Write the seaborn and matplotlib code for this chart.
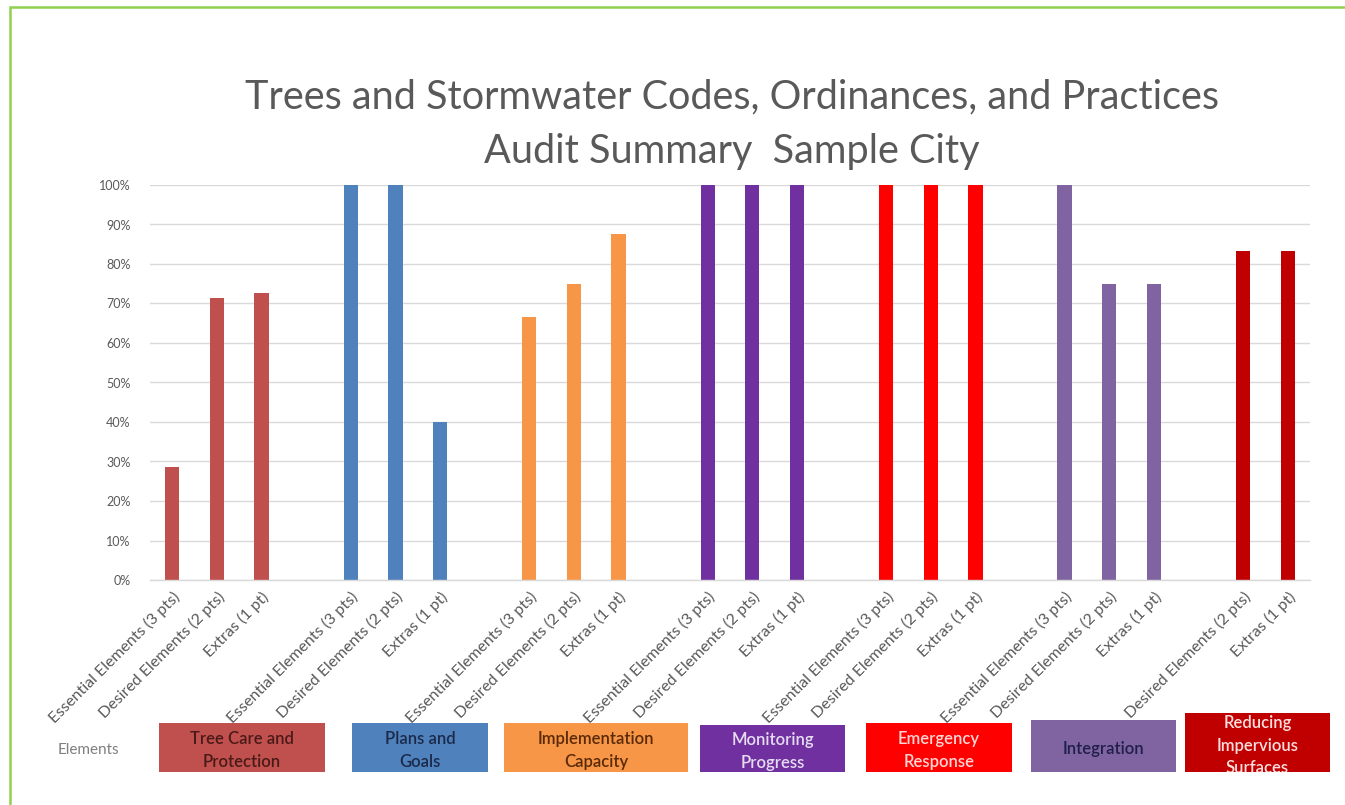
import matplotlib
matplotlib.use("Agg")
import matplotlib.pyplot as plt
from matplotlib.patches import Rectangle
from matplotlib.ticker import FixedLocator, PercentFormatter
import seaborn as sns
import pandas as pd
import numpy as np

# ---- data -----------------------------------------------------------------
groups = [
    "Tree Care and\nProtection",
    "Plans and\nGoals",
    "Implementation\nCapacity",
    "Monitoring\nProgress",
    "Emergency\nResponse",
    "Integration",
    "Reducing\nImpervious\nSurfaces",
]
ESS = "Essential Elements (3 pts)"
DES = "Desired Elements (2 pts)"
EXT = "Extras (1 pt)"
group_items = [
    [ESS, DES, EXT],
    [ESS, DES, EXT],
    [ESS, DES, EXT],
    [ESS, DES, EXT],
    [ESS, DES, EXT],
    [ESS, DES, EXT],
    [DES, EXT],
]
group_scores = [
    [0.286, 0.714, 0.727],
    [1.00, 1.00, 0.40],
    [0.667, 0.75, 0.875],
    [1.00, 1.00, 1.00],
    [1.00, 1.00, 1.00],
    [1.00, 0.75, 0.75],
    [0.833, 0.833],
]
group_colors = ["#C0504D", "#4F81BD", "#F79646", "#7030A0", "#FF0000", "#8064A2", "#C00000"]
group_text_colors = ["#4a1a18", "#1c2a4a", "#5a2a08", "#e6dcf2", "#ffd6d6", "#1f1f48", "#ffdede"]

# ---- build the category table (blank slot between element groups) --------
rows = []
for gi, (g, items, scores) in enumerate(zip(groups, group_items, group_scores)):
    for ii, (item, sc) in enumerate(zip(items, scores)):
        rows.append({"slot": f"{gi}-{ii}", "label": item, "value": sc, "group": g})
    if gi < len(groups) - 1:
        rows.append({"slot": f"{gi}-gap", "label": "", "value": np.nan, "group": g})
df = pd.DataFrame(rows)
slot_order = list(df["slot"])

# ---- figure ----------------------------------------------------------------
W, H = 1345, 805
fig = plt.figure(figsize=(W / 100, H / 100), dpi=100)
fig.patch.set_facecolor("white")


def fx(px):
    return px / W


def fy(py):
    return 1 - py / H


ax = fig.add_axes([fx(150), fy(580), fx(1310) - fx(150), fy(185) - fy(580)])
sns.barplot(
    data=df.dropna(subset=["value"]),
    x="slot", y="value", hue="group",
    order=slot_order, hue_order=groups,
    palette=dict(zip(groups, group_colors)),
    width=0.32, dodge=False, saturation=1, legend=False, ax=ax,
)

FONT = ["Lato", "DejaVu Sans"]
GREY = "#595959"

ax.set_ylim(0, 1)
ax.set_xlim(-0.5, len(slot_order) - 0.5)
ax.yaxis.set_major_locator(FixedLocator(np.arange(0, 1.01, 0.1)))
ax.yaxis.set_major_formatter(PercentFormatter(1.0, decimals=0))
ax.grid(axis="y", color="#D9D9D9", linewidth=1.0)
ax.set_axisbelow(True)
for side in ["top", "right", "left"]:
    ax.spines[side].set_visible(False)
ax.spines["bottom"].set_color("#D9D9D9")
ax.spines["bottom"].set_linewidth(1.0)
ax.tick_params(axis="both", length=0)
ax.tick_params(axis="y", pad=14)
ax.set_xlabel("")
ax.set_ylabel("")

for t in ax.get_yticklabels():
    t.set_fontfamily(FONT)
    t.set_fontsize(9)
    t.set_color(GREY)

ax.set_xticks(range(len(slot_order)))
ax.set_xticklabels(list(df["label"]), rotation=45, ha="right", rotation_mode="anchor",
                   fontsize=11.5, color=GREY, family=FONT)
ax.tick_params(axis="x", pad=7)

# ---- title -----------------------------------------------------------------
fig.text(fx(732), fy(97), "Trees and Stormwater Codes, Ordinances, and Practices",
         ha="center", va="center", fontsize=28.5, color=GREY, family=FONT)
fig.text(fx(732), fy(152), "Audit Summary  Sample City",
         ha="center", va="center", fontsize=28.5, color=GREY, family=FONT)

# ---- element legend boxes --------------------------------------------------
fig.text(fx(88), fy(750), "Elements", ha="center", va="center",
         fontsize=11, color="#7f7f7f", family=FONT)

box_extents = [
    (159, 723, 325, 772),
    (352, 723, 488, 772),
    (504, 723, 688, 772),
    (700, 725, 845, 772),
    (866, 723, 1012, 772),
    (1031, 720, 1176, 772),
    (1185, 713, 1330, 772),
]
for g, col, tcol, (x0, y0, x1, y1) in zip(groups, group_colors, group_text_colors, box_extents):
    rect = Rectangle((fx(x0), fy(y1)), fx(x1) - fx(x0), fy(y0) - fy(y1),
                     transform=fig.transFigure, facecolor=col, edgecolor="none")
    fig.add_artist(rect)
    txt = fig.text(fx((x0 + x1) / 2), fy((y0 + y1) / 2 + 3), g,
                   ha="center", va="center", fontsize=12, color=tcol,
                   family=FONT, linespacing=1.5, fontweight="semibold")
    txt.set_clip_path(rect)

# ---- outer frame -----------------------------------------------------------
frame = Rectangle((fx(10), fy(H + 20)), fx(W + 20) - fx(10), fy(7) - fy(H + 20),
                  transform=fig.transFigure, facecolor="none",
                  edgecolor="#92D050", linewidth=1.8, clip_on=False)
fig.add_artist(frame)

fig.savefig("out.png", dpi=100)
